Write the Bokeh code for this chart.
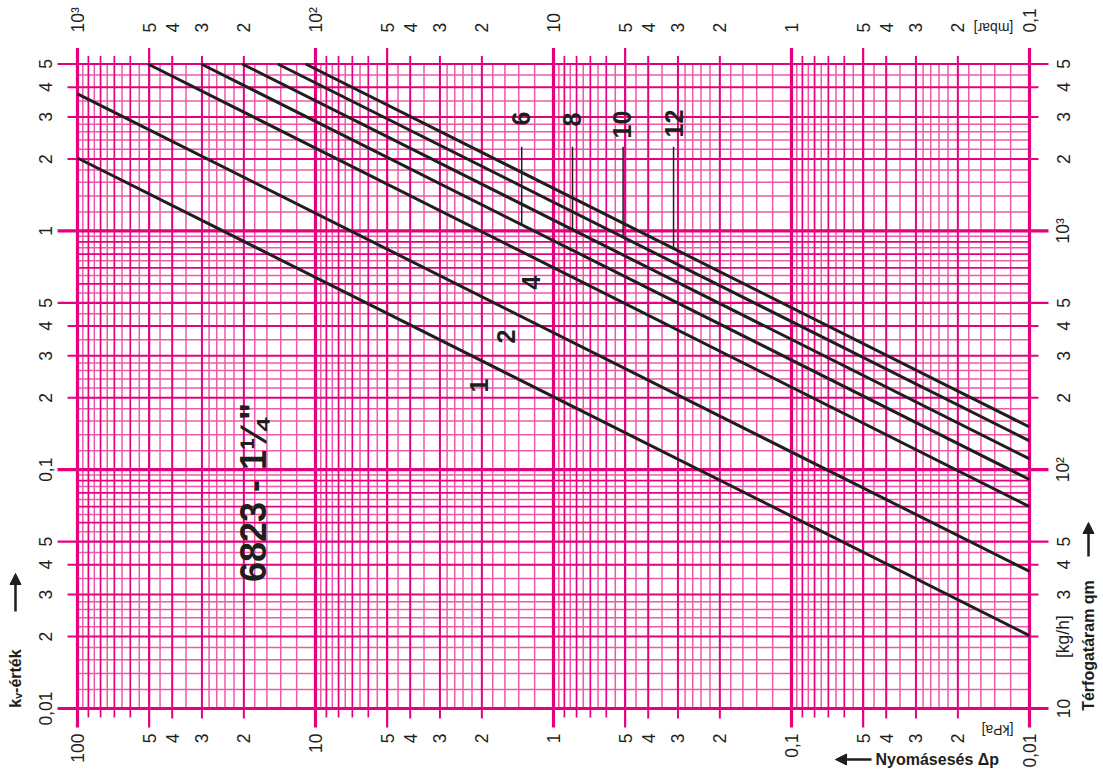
import math
from bokeh.plotting import figure
from bokeh.models import Range1d, Label, Arrow, NormalHead
from bokeh.core.properties import value
from bokeh.embed import file_html
from bokeh.resources import INLINE

# ---------------- data ----------------
settings = ["1", "2", "4", "6", "8", "10", "12"]
line_dp_start = [100.0, 100.0, 50.6, 30.2, 20.3, 14.4, 11.0]            # kPa
line_q_start = [2020.0, 3750.0, 5000.0, 5000.0, 5000.0, 5000.0, 5000.0]  # kg/h
line_dp_end = [0.01, 0.01, 0.01, 0.01, 0.01, 0.01, 0.01]
line_q_end = [20.2, 37.5, 70.0, 91.0, 111.0, 132.0, 151.0]

leader_settings = ["6", "8", "10", "12"]
leader_dp = [1.36, 0.832, 0.51, 0.313]
leader_q_top = [2250.0, 2250.0, 2250.0, 2250.0]
leader_q_bottom = [1062.0, 1012.0, 941.0, 845.0]

dp_ticks = [100, 50, 40, 30, 20, 10, 5, 4, 3, 2, 1, 0.5, 0.4, 0.3, 0.2,
            0.1, 0.05, 0.04, 0.03, 0.02, 0.01]
dp_labels_kpa = ["100", "5", "4", "3", "2", "10", "5", "4", "3", "2", "1",
                 "5", "4", "3", "2", "0,1", "5", "4", "3", "2", "0,01"]
dp_labels_mbar = ["10³", "5", "4", "3", "2", "10²", "5", "4", "3", "2", "10",
                  "5", "4", "3", "2", "1", "5", "4", "3", "2", "0,1"]
q_ticks = [10, 20, 30, 40, 50, 100, 200, 300, 400, 500, 1000, 2000, 3000, 4000, 5000]
kv_labels = ["0,01", "2", "3", "4", "5", "0,1", "2", "3", "4", "5",
             "1", "2", "3", "4", "5"]
q_labels = ["10", "[kg/h]", "3", "4", "5", "10²", "2", "3", "4", "5",
            "10³", "2", "3", "4", "5"]

# ---------------- layout / style ----------------
W, H = 1100, 768
X100, X001 = 77.0, 1029.0      # pixel columns of 100 kPa and 0.01 kPa
Y5000, Y10 = 63.5, 708.0       # pixel rows of 5000 kg/h and 10 kg/h
PX_X = (X001 - X100) / 4.0
PX_Y = (Y10 - Y5000) / math.log10(500.0)


def dp_at(px):
    return 100.0 * 10 ** (-(px - X100) / PX_X)


def q_at(py):
    return 10.0 * 10 ** ((Y10 - py) / PX_Y)


MAG = "#e6007e"
MAG_LIGHT = "#ee5aa8"
INK = "#1e1e1e"
FONT = "Liberation Sans"

p = figure(width=W, height=H, x_axis_type="log", y_axis_type="log",
           x_axis_location=None, y_axis_location=None,
           x_range=Range1d(dp_at(0), dp_at(W)), y_range=Range1d(q_at(H), q_at(0)),
           output_backend="svg", toolbar_location=None,
           min_border_left=0, min_border_right=0, min_border_top=0, min_border_bottom=0)
p.outline_line_color = None
p.xgrid.visible = False
p.ygrid.visible = False
p.background_fill_color = "white"
p.border_fill_color = "white"


def grid_values(lo, hi, mants):
    out = []
    for e in range(-3, 5):
        for m in mants:
            v = float(f"{m * 10 ** e:.6g}")
            if lo * 0.999 <= v <= hi * 1.001:
                out.append(v)
    return out


sub_m = [1.2, 1.4, 1.6, 1.8, 2.2, 2.4, 2.6, 2.8,
         3.5, 4.5, 5.5, 6.5, 7.5, 8.5, 9.5]
# (mantissas, width, colour, ext bottom/top px, ext left/right px)
grid_specs = [
    (sub_m, 1.5, MAG_LIGHT, (0, 0), (0, 0)),
    ([6, 7, 8, 9], 1.7, MAG, (9, 8), (0, 0)),
    ([2, 3, 4], 2.0, MAG, (10, 8), (10, 9)),
    ([5], 2.2, MAG, (19, 16), (20, 19)),
    ([1], 3.2, MAG, (19, 16), (20, 19)),
]
for mants, w, c, ext_v, ext_h in grid_specs:
    xv = grid_values(0.01, 100, mants)
    p.segment(x0=xv, y0=[q_at(Y10 + ext_v[0])] * len(xv), x1=xv,
              y1=[q_at(Y5000 - ext_v[1])] * len(xv), line_color=c, line_width=w)
    yv = grid_values(10, 5000, mants)
    p.segment(x0=[dp_at(X100 - ext_h[0])] * len(yv), y0=yv,
              x1=[dp_at(X001 + ext_h[1])] * len(yv), y1=yv, line_color=c, line_width=w)

# ---------------- tick labels ----------------
LBL = dict(text_font=value(FONT), text_font_size=value("17.5px"), text_color=INK,
           angle=math.pi / 2, text_baseline="middle")
p.text(x=dp_ticks, y=[q_at(733)] * len(dp_ticks), text=dp_labels_kpa, text_align="right", **LBL)
p.text(x=dp_ticks, y=[q_at(32)] * len(dp_ticks), text=dp_labels_mbar, text_align="left", **LBL)
p.text(x=[dp_at(44.5)] * len(q_ticks), y=q_ticks, text=kv_labels, text_align="center", **LBL)
p.text(x=[dp_at(1062.5)] * len(q_ticks), y=q_ticks, text=q_labels, text_align="center", **LBL)

# ---------------- curves ----------------
xs = [[a, b] for a, b in zip(line_dp_start, line_dp_end)]
ys = [[a, b] for a, b in zip(line_q_start, line_q_end)]
p.multi_line(xs=xs, ys=ys, line_color=INK, line_width=3)
p.segment(x0=leader_dp, y0=leader_q_top, x1=leader_dp, y1=leader_q_bottom,
          line_color=INK, line_width=1.5)

curve_label_px = {"1": (478, 385), "2": (505, 336), "4": (530, 282),
                  "6": (520, 118), "8": (571, 119), "10": (621, 124), "12": (673, 123)}
for s in settings:
    px, py = curve_label_px[s]
    p.add_layout(Label(x=dp_at(px), y=q_at(py), text=s, angle=math.pi / 2, text_align="center",
                       text_baseline="middle", text_font=FONT, text_font_style="bold",
                       text_font_size="25px", text_color=INK))

# chart title inside the grid
p.add_layout(Label(x=dp_at(253), y=q_at(492), text="6823 - 1¼\"", angle=math.pi / 2,
                   text_align="center", text_baseline="middle", text_font=FONT,
                   text_font_style="bold", text_font_size="36px", text_color=INK))

# ---------------- axis titles ----------------
TITLE = dict(text_font=FONT, text_font_style="bold", text_font_size="16px", text_color=INK,
             text_baseline="middle")
p.add_layout(Label(x=dp_at(15), y=q_at(678), text="kᵥ-érték", angle=math.pi / 2,
                   text_align="center", **TITLE))
p.add_layout(Arrow(x_start=dp_at(15), y_start=q_at(611), x_end=dp_at(15), y_end=q_at(573),
                   line_color=INK, line_width=2.5,
                   end=NormalHead(size=11, fill_color=INK, line_color=INK)))
p.add_layout(Label(x=dp_at(1088), y=q_at(645), text="Térfogatáram qm", angle=math.pi / 2,
                   text_align="center", **TITLE))
p.add_layout(Arrow(x_start=dp_at(1088), y_start=q_at(556), x_end=dp_at(1088), y_end=q_at(522),
                   line_color=INK, line_width=2.5,
                   end=NormalHead(size=11, fill_color=INK, line_color=INK)))
p.add_layout(Label(x=dp_at(875), y=q_at(759), text="Nyomásesés Δp", text_align="left", **TITLE))
p.add_layout(Arrow(x_start=dp_at(871), y_start=q_at(759), x_end=dp_at(835), y_end=q_at(759),
                   line_color=INK, line_width=2.5,
                   end=NormalHead(size=11, fill_color=INK, line_color=INK)))

# unit labels (printed upside down in the source)
UNIT = dict(text_font=FONT, text_font_size="14px", text_color=INK, angle=math.pi,
            text_align="center", text_baseline="middle")
p.add_layout(Label(x=dp_at(997), y=q_at(729), text="[kPa]", **UNIT))
p.add_layout(Label(x=dp_at(993), y=q_at(27.5), text="[mbar]", **UNIT))

open("out.html", "w").write(file_html(p, INLINE))
